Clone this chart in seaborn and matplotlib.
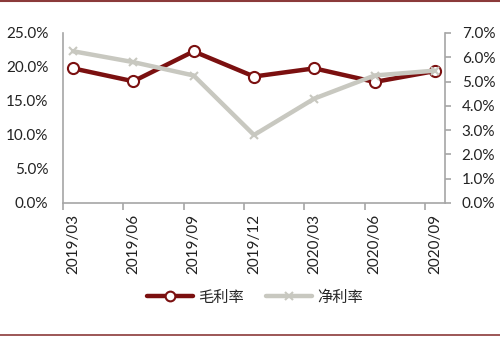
import matplotlib
matplotlib.use("Agg")
import matplotlib.pyplot as plt
from matplotlib.lines import Line2D
from matplotlib.ticker import FuncFormatter, FixedLocator
import seaborn as sns
import pandas as pd
import numpy as np

periods = ["2019/03", "2019/06", "2019/09", "2019/12", "2020/03", "2020/06", "2020/09"]
gross_margin = [19.8, 17.9, 22.3, 18.6, 19.8, 17.8, 19.4]   # 毛利率 (%)
net_margin = [6.25, 5.8, 5.25, 2.8, 4.3, 5.25, 5.45]        # 净利率 (%)
series_names = ["毛利率", "净利率"]

red = "#7B1010"
gray = "#C8C8C0"
spine_gray = "#A6A6A6"

sns.set_theme(style="white")
plt.rcParams["font.family"] = ["Lato", "Noto Sans CJK SC", "DejaVu Sans"]

df = pd.DataFrame({"period": periods, "gross": gross_margin, "net": net_margin})

fig = plt.figure(figsize=(5.0, 3.38), dpi=100)
ax = fig.add_axes([63/500, 1-203/338, (445-63)/500, (203-33)/338])
ax2 = ax.twinx()

sns.lineplot(data=df, x="period", y="gross", ax=ax, color=red, linewidth=3.2,
             marker="o", markersize=8, markerfacecolor="white",
             markeredgecolor=red, markeredgewidth=1.5, label=series_names[0], legend=False)
sns.lineplot(data=df, x="period", y="net", ax=ax2, color=gray, linewidth=3.2,
             marker="x", markersize=6, markeredgecolor=gray, markeredgewidth=1.5,
             label=series_names[1], legend=False)

off = 10/60.33
ax.set_xlim(-off, len(periods) - 1 + off)
ax.set_ylim(0, 25)
ax2.set_ylim(0, 7)

ax.set_yticks(np.arange(0, 25.1, 5))
ax2.set_yticks(np.arange(0, 7.1, 1))
ax.yaxis.set_major_formatter(FuncFormatter(lambda v, p: f"{v:.1f}%"))
ax2.yaxis.set_major_formatter(FuncFormatter(lambda v, p: f"{v:.1f}%"))

ax.set_xticks(range(len(periods)))
ax.set_xticklabels(periods, rotation=90)
ax.xaxis.set_minor_locator(FixedLocator([i - off for i in range(len(periods))]))

ax.set_xlabel("")
ax.set_ylabel("")
ax2.set_ylabel("")

for a in (ax, ax2):
    for s in a.spines.values():
        s.set_visible(False)
    a.grid(False)

ax.spines["left"].set_visible(True)
ax.spines["left"].set_color(spine_gray)
ax.spines["bottom"].set_visible(True)
ax.spines["bottom"].set_color(spine_gray)
ax2.spines["right"].set_visible(True)
ax2.spines["right"].set_color(spine_gray)
for s in ("left", "bottom"):
    ax.spines[s].set_linewidth(1.2)
ax2.spines["right"].set_linewidth(1.2)

ax.tick_params(axis="y", which="both", length=0, labelsize=11, colors="#222222", pad=10.5)
ax.tick_params(axis="x", which="major", length=0, labelsize=11, colors="#222222", pad=8)
ax.tick_params(axis="x", which="minor", length=5, width=1.2, color=spine_gray, direction="out", bottom=True)
ax2.tick_params(axis="y", which="major", length=4, width=1.2, color=spine_gray, direction="out",
                labelsize=11, labelcolor="#222222", pad=8)

handles = [
    Line2D([], [], color=red, linewidth=3.2, marker="o", markersize=7,
           markerfacecolor="white", markeredgecolor=red, markeredgewidth=1.5),
    Line2D([], [], color=gray, linewidth=3.2, marker="x", markersize=6,
           markeredgecolor=gray, markeredgewidth=1.5),
]
fig.legend(handles, series_names, loc="center", bbox_to_anchor=(255/500, 1-297/338),
           ncol=2, frameon=False, handlelength=3.0, handletextpad=0.3,
           columnspacing=1.5, prop={"family": ["Noto Sans CJK SC"], "size": 11})

fig.add_artist(Line2D([0, 1], [1-1/338, 1-1/338], transform=fig.transFigure, color="#8B3A3A", linewidth=1.5))
fig.add_artist(Line2D([0, 1], [1-335/338, 1-335/338], transform=fig.transFigure, color="#8B3A3A", linewidth=1.2))

fig.savefig("out.png", dpi=100)
